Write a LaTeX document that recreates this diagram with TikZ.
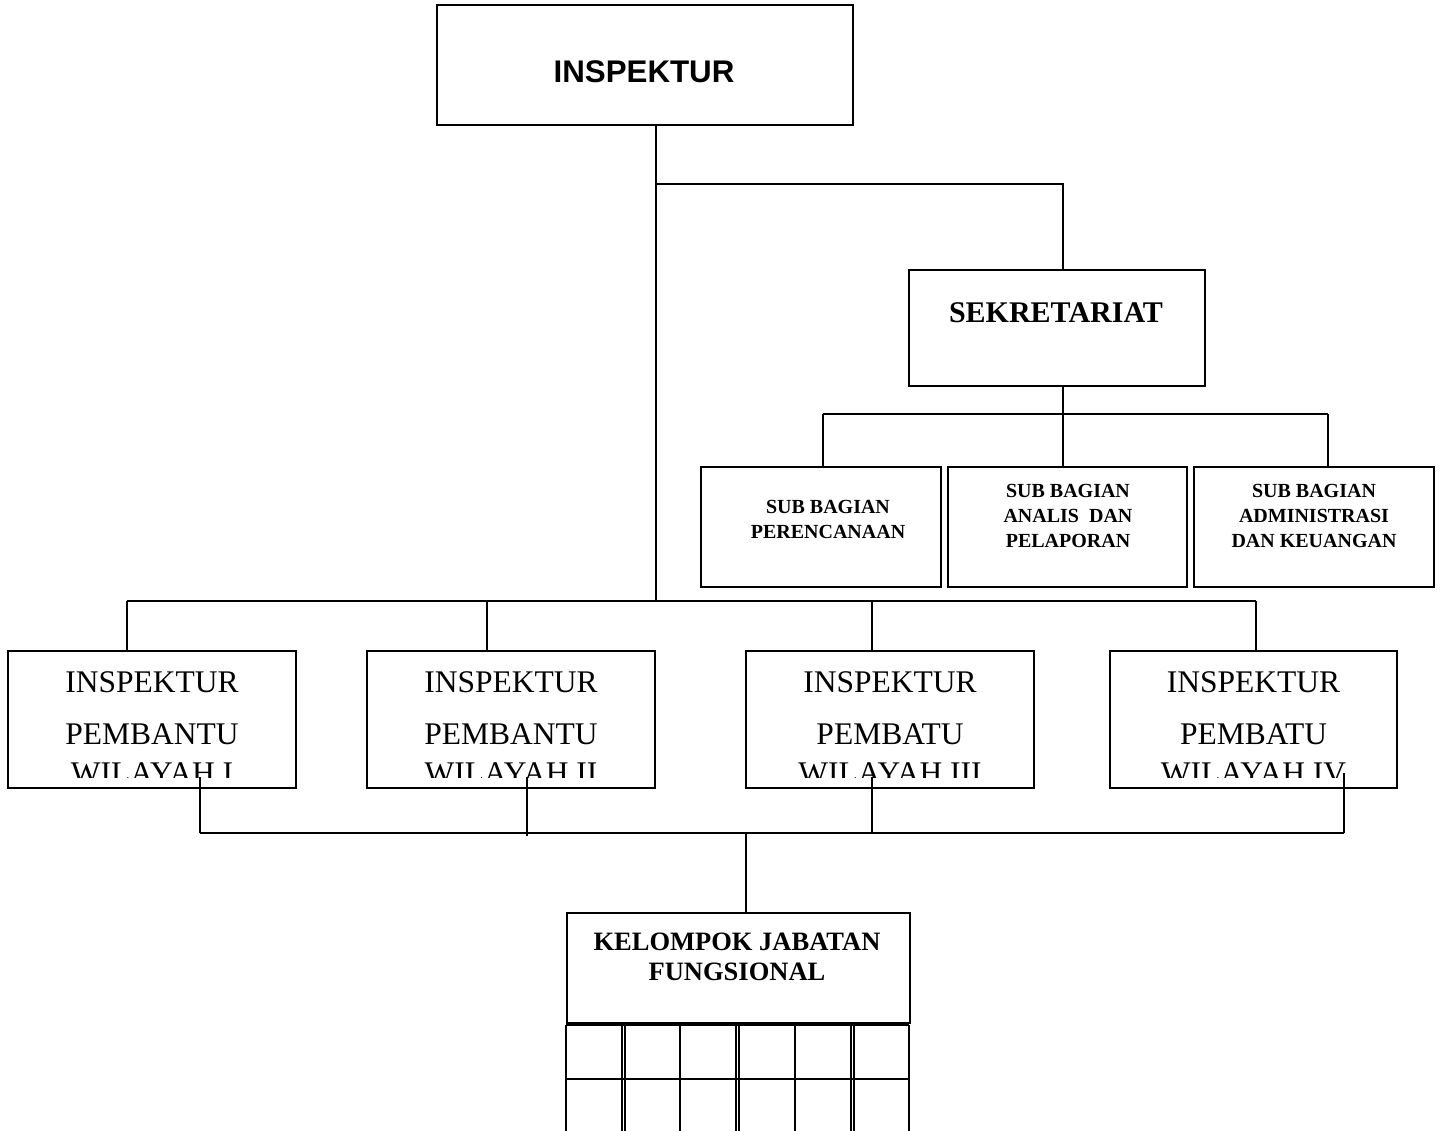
\documentclass[tikz,border=0pt]{standalone}
\usepackage{fontspec}
\setmainfont{Liberation Serif}
\newfontfamily\arialf{Liberation Sans}
\begin{document}
\begin{tikzpicture}[x=1pt,y=-1pt,
  box/.style={draw, line width=1.6pt, inner sep=0pt},
  ln/.style={line width=1.6pt},
  subtxt/.style={align=center, font=\fontsize{20}{25}\selectfont\bfseries},
  pbtxt/.style={anchor=base, font=\fontsize{31.5}{36}\selectfont},
  keltxt/.style={anchor=base, font=\fontsize{26.5}{30}\selectfont\bfseries}]
\useasboundingbox (0,0) rectangle (1443,1131);
% top
\node[box, minimum width=416, minimum height=120] (insp) at (645,65) {};
\node[font=\arialf\fontsize{31.3}{36}\selectfont\bfseries] (tinsp) at (644,72) {INSPEKTUR};
% sekretariat
\node[box, minimum width=296, minimum height=116] (sek) at (1057,328) {};
\node[font=\fontsize{30}{34}\selectfont\bfseries] (tsek) at (1056,313) {SEKRETARIAT};
% sub bagian
\node[box, minimum width=240, minimum height=120] (sb1) at (821,527) {};
\node[box, minimum width=239, minimum height=120] (sb2) at (1067.5,527) {};
\node[box, minimum width=240, minimum height=120] (sb3) at (1314,527) {};
\node[subtxt] (tsb1) at (828,519) {SUB BAGIAN\\PERENCANAAN};
\node[subtxt] (tsb2) at (1068,516) {SUB BAGIAN\\ANALIS\ \ DAN\\PELAPORAN};
\node[subtxt] (tsb3) at (1314,516) {SUB BAGIAN\\ADMINISTRASI\\DAN KEUANGAN};
% pembantu
\node[box, minimum width=288, minimum height=137] (p1) at (152,719.5) {};
\node[box, minimum width=288, minimum height=137] (p2) at (511,719.5) {};
\node[box, minimum width=288, minimum height=137] (p3) at (890,719.5) {};
\node[box, minimum width=287, minimum height=137] (p4) at (1253.5,719.5) {};
\foreach \n/\cx/\w in {1/152/PEMBANTU, 2/511/PEMBANTU, 3/890/PEMBATU, 4/1253.5/PEMBATU}{
  \node[pbtxt] (pa\n) at (\cx,692) {INSPEKTUR};
  \node[pbtxt] (pb\n) at (\cx,744) {\w};
}
\begin{scope}
\clip (8,651) rectangle (1397,777);
\node[pbtxt] (pc1) at (152,783) {WILAYAH I};
\node[pbtxt] (pc2) at (511,783) {WILAYAH II};
\node[pbtxt] (pc3) at (890,783) {WILAYAH III};
\node[pbtxt] (pc4) at (1253.5,783) {WILAYAH IV};
\end{scope}
% kelompok
\node[box, minimum width=343, minimum height=110] (kel) at (738.5,968) {};
\node[keltxt] (tkel1) at (737,950) {KELOMPOK JABATAN};
\node[keltxt] (tkel2) at (737,980) {FUNGSIONAL};
% connectors
\coordinate (j0) at (656,184);
\coordinate (jm) at (656,601);
\coordinate (js) at (1063,184);
\coordinate (jsb) at (1063,414);
\coordinate (ja) at (823,414);
\coordinate (jb) at (1328,414);
\coordinate (ha) at (127,601);
\coordinate (hb) at (487,601);
\coordinate (hc) at (872,601);
\coordinate (hd) at (1256,601);
\draw[ln] (j0 |- insp.south) -- (jm);
\draw[ln] (j0) -- (js) -- (js |- sek.north);
\draw[ln] (js |- sek.south) -- (jsb);
\draw[ln] (ja) -- (jb);
\draw[ln] (ja) -- (ja |- sb1.north);
\draw[ln] (jsb) -- (jsb |- sb2.north);
\draw[ln] (jb) -- (jb |- sb3.north);
\draw[ln] (ha) -- (hd);
\foreach \c in {ha,hb,hc,hd}{\draw[ln] (\c) -- (\c |- p1.north);}
\coordinate (b1) at (200,833);
\coordinate (b2) at (527,833);
\coordinate (b3) at (872,833);
\coordinate (b4) at (1344,833);
\coordinate (bk) at (746,833);
\draw[ln] (200,777) -- (b1);
\draw[ln] (527,777) -- (527,836);
\draw[ln] (872,777) -- (b3);
\draw[ln] (1344,773) -- (b4);
\draw[ln] (b1) -- (b4);
\draw[ln] (bk) -- (bk |- kel.north);
% grid
\draw[ln] (566,1025) -- (909,1025);
\draw[ln] (566,1079) -- (909,1079);
\foreach \gx in {566,622,625,680,736,739,795,851,854,909}{\draw[ln] (\gx,1025) -- (\gx,1140);}
\end{tikzpicture}
\end{document}
